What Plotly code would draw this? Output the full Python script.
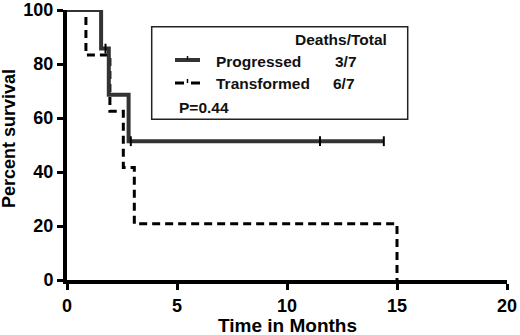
import plotly.graph_objects as go

# Kaplan-Meier step data (months, percent survival)
prog_t = [0, 1.55, 1.9, 2.8, 14.4]
prog_s = [100, 85.7, 68.6, 51.4, 51.4]
prog_cens_t = [1.75, 2.9, 11.5, 14.4]
prog_cens_s = [85.7, 51.4, 51.4, 51.4]

trans_t = [0, 0.86, 1.95, 2.56, 3.06, 15]
trans_s = [100, 83.3, 62.5, 41.7, 20.8, 0]

x_ticks = [0, 5, 10, 15, 20]
y_ticks = [0, 20, 40, 60, 80, 100]

legend_names = ["Progressed", "Transformed"]
legend_counts = ["3/7", "6/7"]
p_text = "P=0.44"

FONT = "Liberation Sans, Arial, sans-serif"
L, R, T, B = 67, 507, 10, 280


def px(xp):
    return (xp - L) / (R - L)


def py(yp):
    return (B - yp) / (B - T)


fig = go.Figure()
fig.add_trace(go.Scatter(x=trans_t, y=trans_s, mode="lines", line_shape="hv",
                         line=dict(color="black", width=3, dash="8px,5px"),
                         showlegend=False, hoverinfo="skip"))
fig.add_trace(go.Scatter(x=prog_t, y=prog_s, mode="lines", line_shape="hv",
                         line=dict(color="#333333", width=4),
                         showlegend=False, hoverinfo="skip"))
fig.add_trace(go.Scatter(x=prog_cens_t, y=prog_cens_s, mode="markers",
                         marker=dict(symbol="line-ns", size=7,
                                     line=dict(color="black", width=2)),
                         showlegend=False, hoverinfo="skip"))

# Legend box
fig.add_shape(type="rect", xref="paper", yref="paper",
              x0=px(151.7), x1=px(407.7), y0=py(119.3), y1=py(26.7),
              line=dict(color="#222", width=1.5), fillcolor="white", layer="above")
fig.add_shape(type="line", xref="paper", yref="paper", x0=px(175), x1=px(200),
              y0=py(60), y1=py(60), line=dict(color="#333", width=4), layer="above")
fig.add_shape(type="line", xref="paper", yref="paper", x0=px(187.5), x1=px(187.5),
              y0=py(56), y1=py(60), line=dict(color="#111", width=1.5), layer="above")
fig.add_shape(type="line", xref="paper", yref="paper", x0=px(175), x1=px(200),
              y0=py(83), y1=py(83), line=dict(color="black", width=3, dash="9px,7px"),
              layer="above")
fig.add_shape(type="line", xref="paper", yref="paper", x0=px(187.5), x1=px(187.5),
              y0=py(79), y1=py(83), line=dict(color="black", width=1.5), layer="above")

fs = 15.5
lf = dict(family=FONT, size=fs, weight="bold", color="#111")


def note(x, y, text, xanchor="center"):
    fig.add_annotation(xref="paper", yref="paper", x=px(x), y=py(y), text=text,
                       xanchor=xanchor, yanchor="middle", showarrow=False, font=lf)


note(341, 39, "Deaths/Total")
note(214, 61, legend_names[0], "left")
note(214, 84, legend_names[1], "left")
note(346, 61, legend_counts[0])
note(344, 84, legend_counts[1])
note(177, 108, p_text, "left")

# Axis titles
tf = dict(family=FONT, size=19, weight="bold", color="black")
fig.add_annotation(xref="paper", yref="paper", x=px(287), y=py(325),
                   text="Time in Months", showarrow=False, font=tf,
                   xanchor="center", yanchor="middle")
fig.add_annotation(xref="paper", yref="paper", x=px(9), y=py(139),
                   text="Percent survival", showarrow=False, font=dict(tf, size=18),
                   textangle=-90, xanchor="center", yanchor="middle")

fig.update_layout(
    width=520, height=335,
    margin=dict(l=L, r=520 - R, t=T, b=335 - B, autoexpand=False),
    paper_bgcolor="white", plot_bgcolor="white",
    font=dict(family=FONT, color="black"),
)
fig.update_xaxes(range=[0, 20], tickvals=x_ticks, showgrid=False, zeroline=False,
                 showline=True, linecolor="black", linewidth=4, automargin=False,
                 ticks="outside", ticklen=6, tickwidth=3, tickcolor="black",
                 tickfont=dict(family=FONT, size=18, weight="bold"))
fig.update_yaxes(range=[0, 100], tickvals=y_ticks, showgrid=False, zeroline=False,
                 showline=True, linecolor="black", linewidth=4, automargin=False,
                 ticks="outside", ticklen=6, tickwidth=3, tickcolor="black",
                 tickfont=dict(family=FONT, size=18, weight="bold"))

fig.write_html("out.html", config={"displayModeBar": False},
               post_script="document.body.style.margin='0';document.body.style.overflow='hidden';")
